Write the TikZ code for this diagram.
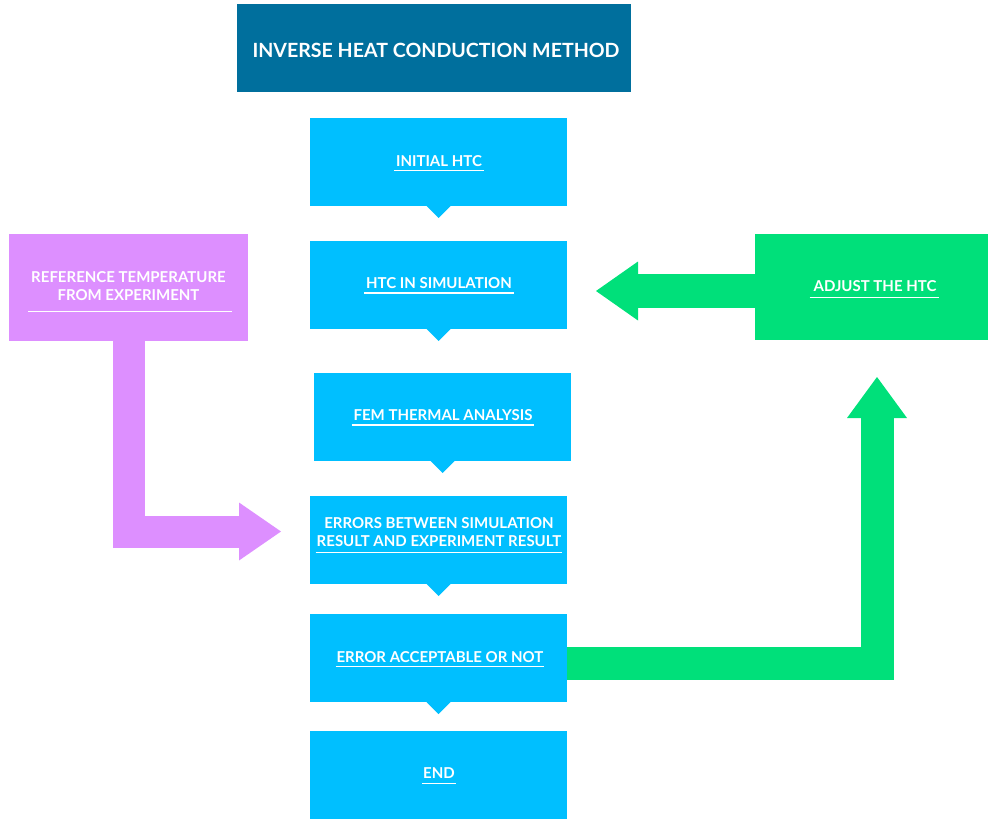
\documentclass[tikz,border=0pt]{standalone}
\usepackage{fontspec}
\setmainfont{Lato}
\usetikzlibrary{arrows.meta,calc}
\definecolor{titleblue}{RGB}{0,111,157}
\definecolor{boxblue}{RGB}{0,191,255}
\definecolor{refpurple}{RGB}{221,143,255}
\definecolor{adjgreen}{RGB}{0,224,122}
\tikzset{
  box/.style={fill=boxblue, minimum width=257pt, minimum height=88pt, inner sep=0pt, outer sep=0pt},
  lab/.style={text=white, font=\bfseries\fontsize{15}{18.5}\selectfont, inner sep=0pt, outer sep=0pt, align=center, anchor=south},
  ttl/.style={lab, font=\bfseries\fontsize{19.6}{22}\selectfont},
  ul/.style={draw=white, line width=1.2pt},
  ptr/.style={fill=boxblue},
  fat/.style={line width=#1, line join=miter, line cap=butt}
}
\newcommand\ulline[4]{% node, gap, ext-left, ext-right
  \draw[ul] ([xshift=-#3pt,yshift=-#2pt]#1.south west) -- ([xshift=#4pt,yshift=-#2pt]#1.south east);}
\newcommand\pointer[1]{\fill[ptr] ([xshift=-12pt]#1.south) -- ([xshift=12pt]#1.south) -- ([yshift=-12pt]#1.south) -- cycle;}
\begin{document}
\begin{tikzpicture}[x=1pt,y=-1pt]
\useasboundingbox (0,0) rectangle (988,821);
% title
\node[fill=titleblue, minimum width=394pt, minimum height=88pt, inner sep=0pt] (title) at (434,48) {};
\node[ttl] (tt) at (436,57.5) {INVERSE HEAT CONDUCTION METHOD};
% blue boxes
\node[box] (b1) at (438.5,162) {};
\node[box] (b2) at (438.5,285) {};
\node[box] (b3) at (442.5,417) {};
\node[box] (b4) at (438.5,540) {};
\node[box] (b5) at (438.5,658) {};
\node[box] (b6) at (438.5,775) {};
\pointer{b1}\pointer{b2}\pointer{b3}\pointer{b4}\pointer{b5}
\node[lab] (l1) at (439,166.5) {INITIAL HTC};
\node[lab] (l2) at (439,289) {HTC IN SIMULATION};
\node[lab] (l3) at (443,421) {FEM THERMAL ANALYSIS};
\node[lab] (l4) at (439,546.7) {ERRORS BETWEEN SIMULATION\\RESULT AND EXPERIMENT RESULT};
\node[lab] (l5) at (440,662.7) {ERROR ACCEPTABLE OR NOT};
\node[lab] (l6) at (439,778.3) {END};
\ulline{l1}{4}{2}{2}
\ulline{l2}{4}{2}{2}
\ulline{l3}{4}{2}{2}
\ulline{l4}{6}{1}{1}
\ulline{l5}{4}{1}{1}
\ulline{l6}{5}{1}{1}
% side boxes
\node[fill=refpurple, minimum width=239pt, minimum height=106pt, inner sep=0pt, outer sep=0pt] (ref) at (128.5,287.5) {};
\node[lab] (lr) at (128.5,300.7) {REFERENCE TEMPERATURE\\FROM EXPERIMENT};
\ulline{lr}{11}{3}{6}
\node[fill=adjgreen, minimum width=233pt, minimum height=106pt, inner sep=0pt, outer sep=0pt] (adj) at (871.5,287) {};
\node[lab] (la) at (875,291.7) {ADJUST THE HTC};
\ulline{la}{6}{4}{3}
% connectors
\coordinate (reftip) at (281,531.5);
\coordinate (adjtip) at (596,291);
\coordinate (acctip) at (877,377);
\draw[refpurple, fat=32pt, -{Triangle[width=58pt,length=42pt,line width=0pt]}] (ref.south) |- (reftip);
\draw[adjgreen, fat=34pt, -{Triangle[width=59pt,length=42pt,line width=0pt]}] (adjtip -| adj.west) -- (adjtip);
\draw[adjgreen, fat=33pt, -{Triangle[width=60pt,length=41pt,line width=0pt]}] ([yshift=-5.5pt]b5.east) -| (acctip);
\end{tikzpicture}
\end{document}
